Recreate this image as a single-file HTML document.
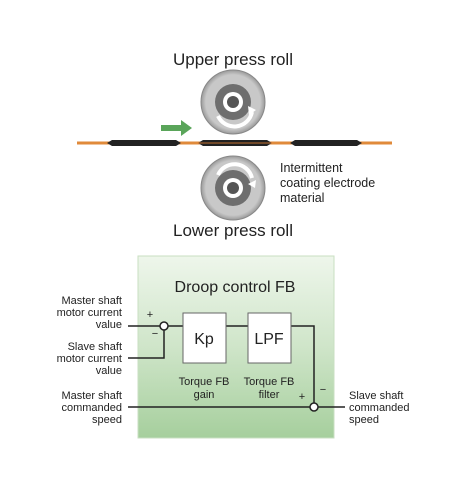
<!DOCTYPE html><html><head><style>body{margin:0;background:#fff}svg{display:block}</style></head><body>
<svg width="462" height="490" xmlns="http://www.w3.org/2000/svg" font-family="Liberation Sans, sans-serif">
<defs><linearGradient id="g" x1="0" y1="0" x2="0" y2="1"><stop offset="0" stop-color="#eef6eb"/><stop offset="0.5" stop-color="#cfe5c9"/><stop offset="1" stop-color="#a6cf9d"/></linearGradient>
<radialGradient id="r"><stop offset="0.85" stop-color="#c8c8c8"/><stop offset="1" stop-color="#9a9a9a"/></radialGradient></defs>
<text x="233" y="65" font-size="17" text-anchor="middle" fill="#222">Upper press roll</text>
<text x="233" y="236" font-size="17" text-anchor="middle" fill="#222">Lower press roll</text>
<g>
<circle cx="233" cy="102" r="32" fill="url(#r)" stroke="#888"/>
<circle cx="233" cy="102" r="18" fill="#6e6e6e"/>
<circle cx="233" cy="102" r="10" fill="#fff"/><circle cx="233" cy="102" r="6" fill="#555"/>
<path d="M218 116 A18 18 0 0 0 252 112" stroke="#fff" stroke-width="4" fill="none"/><path d="M248 106 l8 4 l-7 5z" fill="#fff"/>
<circle cx="233" cy="188" r="32" fill="url(#r)" stroke="#888"/>
<circle cx="233" cy="188" r="18" fill="#6e6e6e"/>
<circle cx="233" cy="188" r="10" fill="#fff"/><circle cx="233" cy="188" r="6" fill="#555"/>
<path d="M218 175 A18 18 0 0 1 252 178" stroke="#fff" stroke-width="4" fill="none"/><path d="M248 184 l8 -4 l-1 8z" fill="#fff"/>
</g>
<line x1="77" y1="143" x2="392" y2="143" stroke="#e08a3a" stroke-width="3"/>
<g fill="#222"><path d="M107 143 l5 -3 h64 l5 3 l-5 3 h-64z"/><path d="M198 143 l5 -3 h64 l5 3 l-5 3 h-64z"/><path d="M290 143 l5 -3 h62 l5 3 l-5 3 h-62z"/></g>
<line x1="198" y1="143" x2="272" y2="143" stroke="#c07030" stroke-width="1"/>
<path d="M161 125 h20 v-5 l11 8 l-11 8 v-5 h-20z" fill="#5aa55a"/>
<g font-size="12.5" fill="#222"><text x="280" y="172">Intermittent</text><text x="280" y="187">coating electrode</text><text x="280" y="202">material</text></g>
<rect x="138" y="256" width="196" height="182" fill="url(#g)" stroke="#c8dfc2"/>
<text x="235" y="292" font-size="16" text-anchor="middle" fill="#222">Droop control FB</text>
<g stroke="#222" stroke-width="1.5" fill="none">
<line x1="128" y1="326" x2="160" y2="326"/><line x1="168" y1="326" x2="183" y2="326"/>
<polyline points="128,358 164,358 164,330"/>
<line x1="226" y1="326" x2="248" y2="326"/>
<polyline points="291,326 314,326 314,403"/>
<line x1="128" y1="407" x2="310" y2="407"/><line x1="318" y1="407" x2="345" y2="407"/>
<circle cx="164" cy="326" r="4" fill="#fff"/><circle cx="314" cy="407" r="4" fill="#fff"/>
</g>
<rect x="183" y="313" width="43" height="50" fill="#fff" stroke="#666"/>
<rect x="248" y="313" width="43" height="50" fill="#fff" stroke="#666"/>
<text x="204" y="344" font-size="16" text-anchor="middle" fill="#222">Kp</text>
<text x="269" y="344" font-size="16" text-anchor="middle" fill="#222">LPF</text>
<g font-size="11" fill="#222" text-anchor="middle"><text x="204" y="385">Torque FB</text><text x="204" y="398">gain</text><text x="269" y="385">Torque FB</text><text x="269" y="398">filter</text>
<text x="150" y="318">+</text><text x="155" y="337">−</text><text x="302" y="400">+</text><text x="323" y="393">−</text></g>
<g font-size="11" fill="#222" text-anchor="end"><text x="122" y="304">Master shaft</text><text x="122" y="316">motor current</text><text x="122" y="328">value</text>
<text x="122" y="350">Slave shaft</text><text x="122" y="362">motor current</text><text x="122" y="374">value</text>
<text x="122" y="399">Master shaft</text><text x="122" y="411">commanded</text><text x="122" y="423">speed</text></g>
<g font-size="11" fill="#222"><text x="349" y="399">Slave shaft</text><text x="349" y="411">commanded</text><text x="349" y="423">speed</text></g>
</svg></body></html>
